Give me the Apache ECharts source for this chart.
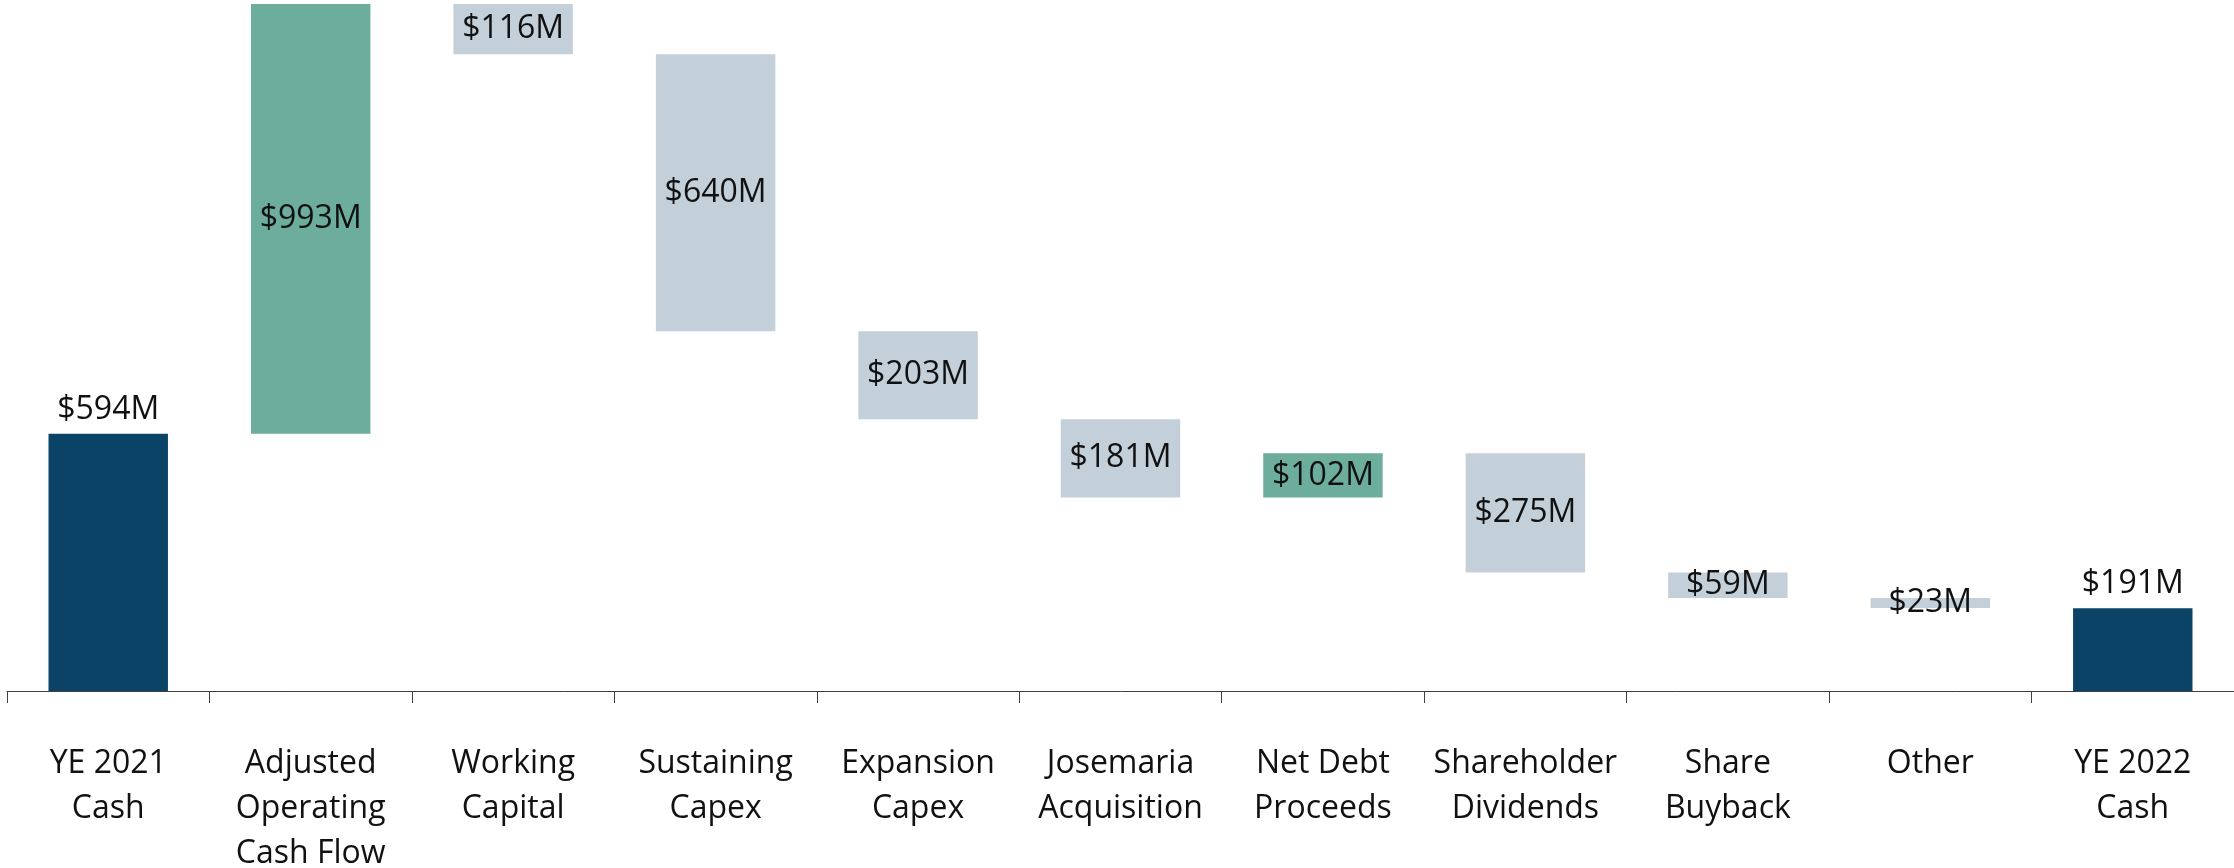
<!DOCTYPE html>
<html>
<head>
<meta charset="utf-8">
<script src="https://cdn.jsdelivr.net/npm/echarts@6/dist/echarts.min.js"></script>
<style>
  html, body { margin: 0; padding: 0; background: #fff; }
  #container { width: 2234px; height: 868px; }
</style>
</head>
<body>
<div id="container"></div>
<script>
var categories = ['YE 2021\nCash', 'Adjusted\nOperating\nCash Flow', 'Working\nCapital', 'Sustaining\nCapex',
    'Expansion\nCapex', 'Josemaria\nAcquisition', 'Net Debt\nProceeds', 'Shareholder\nDividends',
    'Share\nBuyback', 'Other', 'YE 2022\nCash'];
// change for each step, in $M (totals are the first and last entries)
var changes = [594, 993, -116, -640, -203, -181, 102, -275, -59, -23, 191];
var kinds = ['total', 'up', 'down', 'down', 'down', 'down', 'up', 'down', 'down', 'down', 'total'];

var colors = { total: '#0B4367', up: '#6CAD9B', down: '#C3D0D9' };

var base = [], visible = [];
var running = 0;
for (var i = 0; i < changes.length; i++) {
    var v = changes[i], k = kinds[i];
    if (k === 'total') {
        base.push(0);
        visible.push({ value: v, itemStyle: { color: colors.total },
            label: { position: 'top', distance: 8 } });
        running = v;
    } else if (k === 'up') {
        base.push(running);
        visible.push({ value: v, itemStyle: { color: colors.up } });
        running += v;
    } else {
        running += v;
        base.push(running);
        visible.push({ value: -v, itemStyle: { color: colors.down } });
    }
}

var dom = document.getElementById('container');
var myChart = echarts.init(dom);

var option = {
    animation: false,
    textStyle: { fontFamily: 'Open Sans' },
    grid: { left: 7, right: 0, top: 4, bottom: 177, containLabel: false, outerBoundsMode: 'none' },
    xAxis: {
        type: 'category',
        data: categories,
        axisLine: { lineStyle: { color: '#404040', width: 1 } },
        axisTick: { show: true, interval: 0, length: 12, lineStyle: { color: '#404040' } },
        axisLabel: {
            interval: 0,
            margin: 50,
            fontSize: 32,
            lineHeight: 45,
            color: '#111',
            fontFamily: 'Open Sans'
        }
    },
    yAxis: { type: 'value', show: false, min: 0, max: 1587 },
    series: [
        {
            type: 'bar',
            stack: 'w',
            barWidth: '59%',
            itemStyle: { color: 'transparent' },
            silent: true,
            data: base
        },
        {
            type: 'bar',
            stack: 'w',
            barWidth: '59%',
            label: {
                show: true,
                position: 'inside',
                fontSize: 32,
                color: '#111',
                fontFamily: 'Open Sans',
                formatter: function (p) { return '$' + p.value + 'M'; }
            },
            data: visible
        }
    ]
};

myChart.setOption(option, true);
</script>
</body>
</html>
